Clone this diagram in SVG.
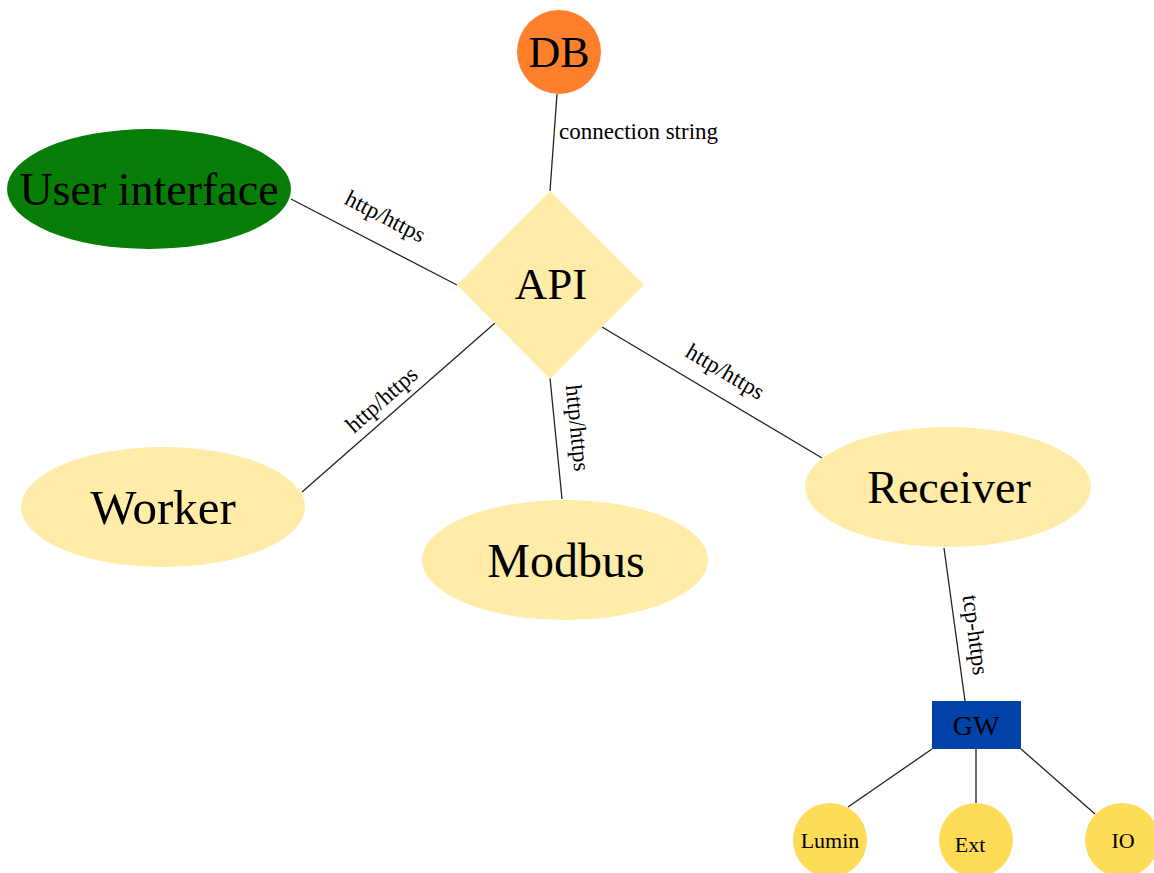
<svg xmlns="http://www.w3.org/2000/svg" width="1154" height="873" viewBox="0 0 1154 873">
<style>
text{font-family:"Liberation Serif","Times New Roman",serif;fill:#000;}
.big{text-anchor:middle;}
.small{font-size:22px;text-anchor:middle;}
.lbl{font-size:23px;text-anchor:middle;}
.edge{stroke:#222;stroke-width:1.3;fill:none;}
.pale{fill:#FFECA8;}
.leaf{fill:#FFDC58;}
</style>
<rect width="1154" height="873" fill="#fff"/>
<g id="connectors">
<line class="edge" x1="557" y1="94" x2="550" y2="191"/>
<line class="edge" x1="291" y1="199" x2="457" y2="285"/>
<line class="edge" x1="302" y1="492" x2="495" y2="323"/>
<line class="edge" x1="550" y1="378" x2="562" y2="499"/>
<line class="edge" x1="602" y1="327" x2="822" y2="458"/>
<line class="edge" x1="944" y1="548" x2="965" y2="701"/>
<line class="edge" x1="932" y1="749" x2="848" y2="807"/>
<line class="edge" x1="976" y1="749" x2="976" y2="803"/>
<line class="edge" x1="1021" y1="749" x2="1095" y2="814"/>
<text x="559" y="139" font-family="Liberation Serif, serif" font-size="23">connection string</text>
<text class="lbl" transform="translate(385,217) rotate(27.4)" y="7">http/https</text>
<text class="lbl" transform="translate(382,400) rotate(-41.2)" y="7">http/https</text>
<text class="lbl" transform="translate(577,428) rotate(84.3)" y="7">http/https</text>
<text class="lbl" transform="translate(725,372) rotate(30.8)" y="7">http/https</text>
<text class="lbl" transform="translate(975,635) rotate(82.2)" y="7">tcp-https</text>
</g>
<g id="db">
<circle cx="559" cy="52" r="42" fill="#FE7F2C"/>
<text class="big" x="559" y="67" font-size="44">DB</text>
</g>
<g id="api">
<polygon class="pale" points="550,191 644,285 550,379 457,285"/>
<text class="big" x="551" y="299" font-size="45">API</text>
</g>
<g id="ui">
<ellipse cx="149" cy="189" rx="142" ry="60" fill="#067D06"/>
<text class="big" x="149" y="205" font-size="46">User interface</text>
</g>
<g id="worker">
<ellipse class="pale" cx="163" cy="507" rx="142" ry="60"/>
<text class="big" x="163" y="524" font-size="49">Worker</text>
</g>
<g id="modbus">
<ellipse class="pale" cx="565" cy="560" rx="143" ry="60"/>
<text class="big" x="566" y="577" font-size="48">Modbus</text>
</g>
<g id="receiver">
<ellipse class="pale" cx="948" cy="487" rx="143" ry="60"/>
<text class="big" x="949" y="503" font-size="46">Receiver</text>
</g>
<g id="gw">
<rect x="932" y="701" width="89" height="48" fill="#0042A8"/>
<text x="976" y="735" style="font-size:28px;text-anchor:middle">GW</text>
</g>
<g id="lumin">
<circle class="leaf" cx="830" cy="840" r="37"/>
<text class="small" x="830" y="848">Lumin</text>
</g>
<g id="ext">
<circle class="leaf" cx="976" cy="840" r="37"/>
<text class="small" x="970" y="852">Ext</text>
</g>
<g id="io">
<circle class="leaf" cx="1122" cy="840" r="37"/>
<text class="small" x="1123" y="848">IO</text>
</g>
</svg>
